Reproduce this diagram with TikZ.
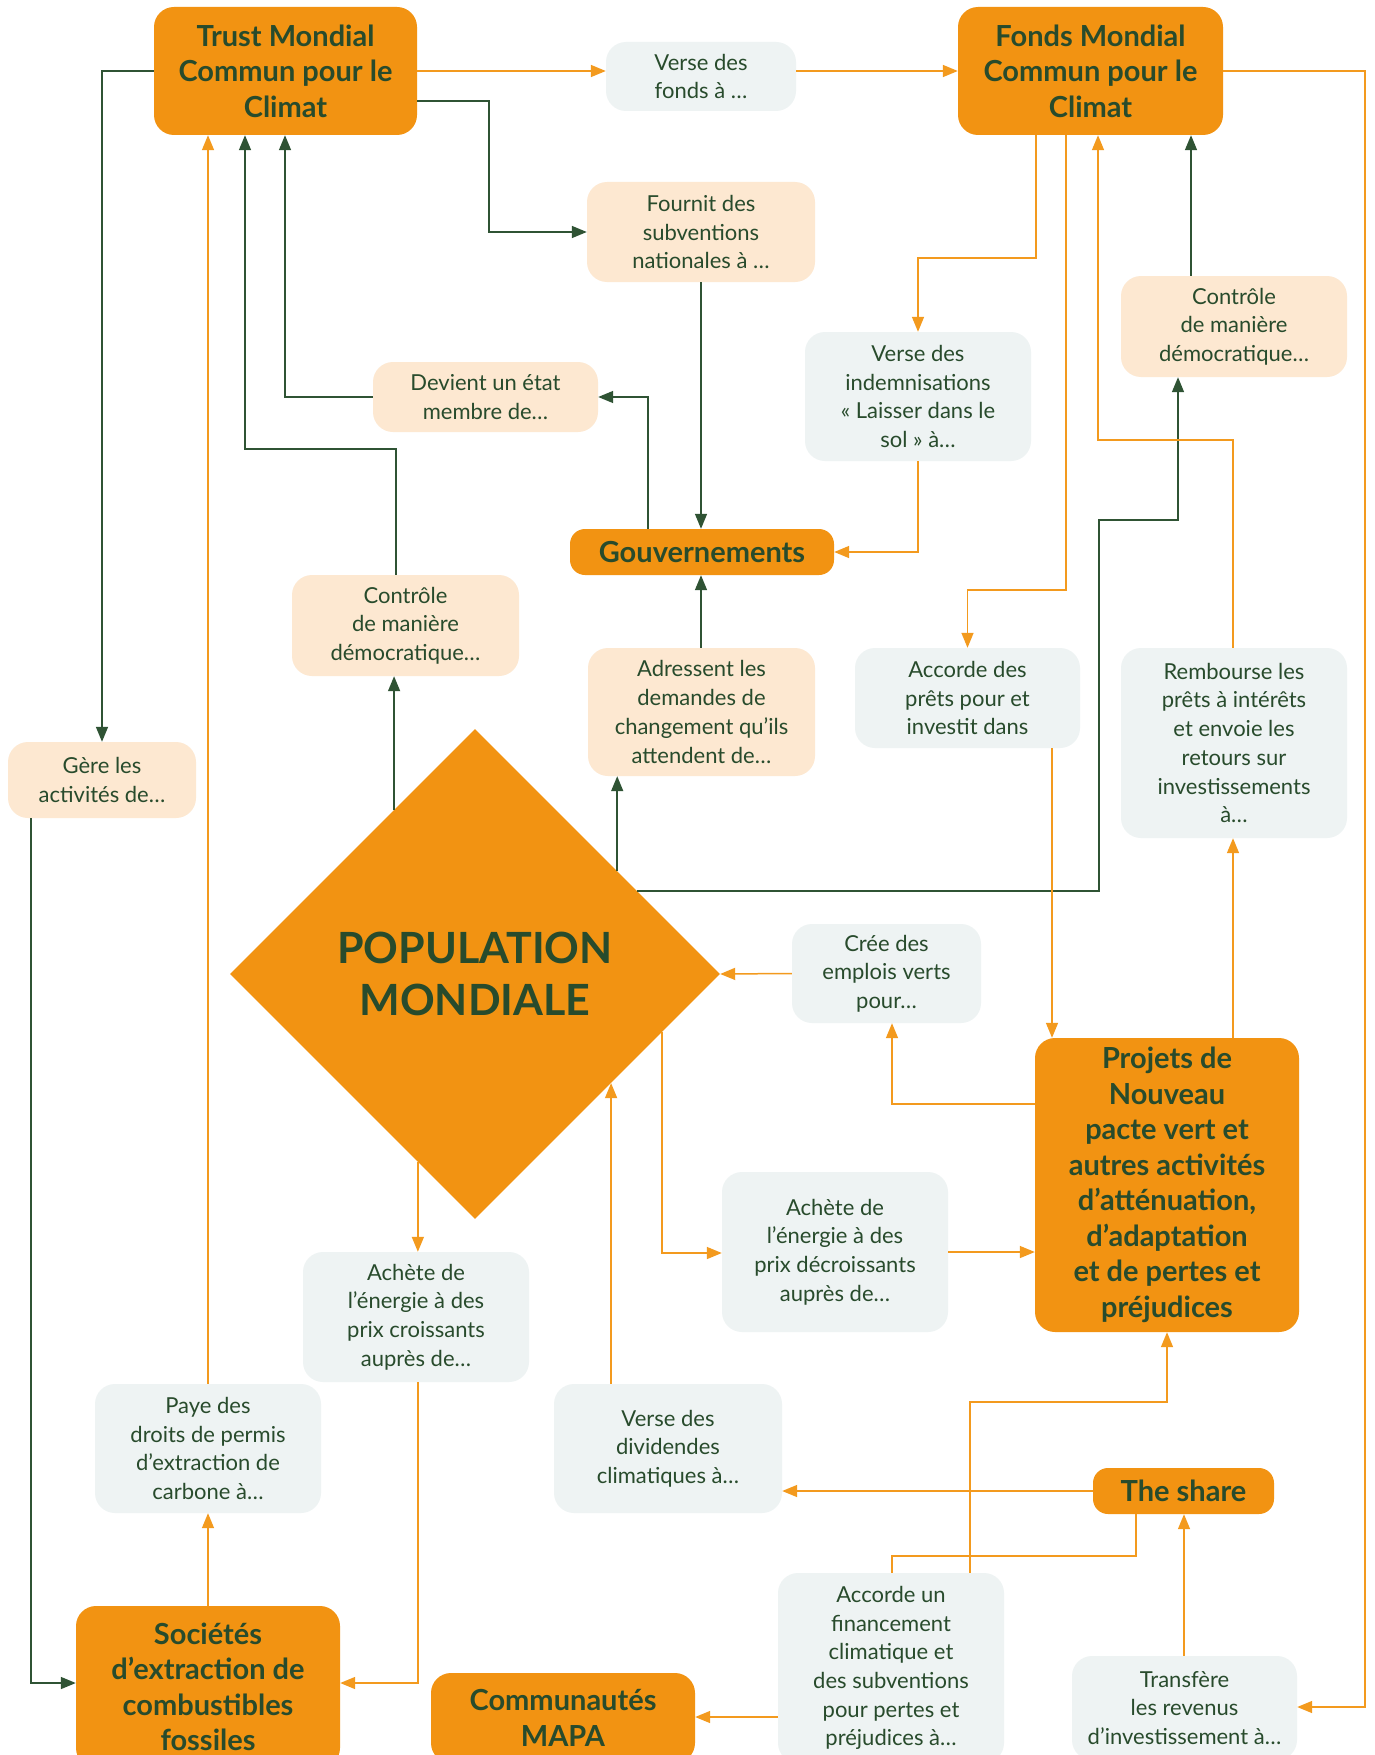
\documentclass[tikz,border=0pt]{standalone}
\usepackage{fontspec}
\setmainfont{Lato}
\usetikzlibrary{arrows.meta,shapes.geometric,calc}
\definecolor{ora}{HTML}{F29312}
\definecolor{oline}{HTML}{F39A1E}
\definecolor{peach}{HTML}{FDE8D1}
\definecolor{greyb}{HTML}{EEF3F3}
\definecolor{dgreen}{HTML}{284B2C}
\definecolor{gline}{HTML}{2F5334}
\tikzset{
  box/.style={rectangle, rounded corners=20pt, inner sep=0pt, align=center, text=dgreen,
    font=\fontsize{22}{28.7}\selectfont},
  pbox/.style={box, fill=peach},
  gbox/.style={box, fill=greyb},
  tbox/.style={rectangle, rounded corners=20pt, inner sep=0pt, align=center, fill=ora, text=dgreen,
    font=\fontsize{29}{35.5}\selectfont\bfseries},
  og/.style={draw=oline, line width=1.5pt, -{Triangle[length=15pt,width=12pt]}},
  gg/.style={draw=gline, line width=1.5pt, -{Triangle[length=15pt,width=12pt]}},
  op/.style={draw=oline, line width=1.5pt},
}
\begin{document}
\begin{tikzpicture}[x=1pt,y=-1pt]
\useasboundingbox (0,0) rectangle (1374,1755);
\fill[white] (0,0) rectangle (1374,1755);
\begin{scope}
\clip (0,0) rectangle (1374,1755);
% title boxes
\node[tbox, minimum width=263pt, minimum height=128pt] (trust) at (285.5,71) {Trust Mondial\\Commun pour le\\Climat};
\node[tbox, minimum width=265pt, minimum height=128pt] (fonds) at (1090.5,71) {Fonds Mondial\\Commun pour le\\Climat};
\node[tbox, rounded corners=15pt, minimum width=264pt, minimum height=46pt] (gouv) at (702,552) {Gouvernements};
\node[tbox, minimum width=264pt, minimum height=294pt] (projets) at (1167,1185) {Projets de\\Nouveau\\pacte vert et\\autres activités\\d’atténuation,\\d’adaptation\\et de pertes et\\préjudices};
\node[tbox, rounded corners=15pt, minimum width=181pt, minimum height=46pt] (share) at (1183.5,1491) {The share};
\node[tbox, minimum width=264pt, minimum height=162pt] (societes) at (208,1687) {Sociétés\\d’extraction de\\combustibles\\fossiles};
\node[tbox, minimum width=264pt, minimum height=90pt] (communautes) at (563,1718) {Communautés\\MAPA};
% diamond
\node[diamond, fill=ora, inner sep=0pt, minimum width=490pt, minimum height=490pt, align=center, text=dgreen,
  font=\fontsize{43}{52}\selectfont\bfseries] (pop) at (475,974) {POPULATION\\MONDIALE};
% label boxes
\node[gbox, minimum width=190pt, minimum height=69pt] (versefonds) at (701,76.5) {Verse des\\fonds à …};
\node[pbox, minimum width=228pt, minimum height=100pt] (fournit) at (701,232) {Fournit des\\subventions\\nationales à …};
\node[gbox, minimum width=226pt, minimum height=129pt] (versindem) at (918,396.5) {Verse des\\indemnisations\\« Laisser dans le\\sol » à…};
\node[pbox, minimum width=226pt, minimum height=101pt] (controleR) at (1234,326.5) {Contrôle\\de manière\\démocratique…};
\node[pbox, minimum width=225pt, minimum height=70pt] (devient) at (485.5,397) {Devient un état\\membre de…};
\node[pbox, minimum width=227pt, minimum height=101pt] (controleL) at (405.5,625.5) {Contrôle\\de manière\\démocratique…};
\node[pbox, minimum width=227pt, minimum height=128pt] (adressent) at (701.5,712) {Adressent les\\demandes de\\changement qu’ils\\attendent de…};
\node[gbox, minimum width=225pt, minimum height=100pt] (accordeprets) at (967.5,698) {Accorde des\\prêts pour et\\investit dans};
\node[gbox, minimum width=226pt, minimum height=190pt] (rembourse) at (1234,743) {Rembourse les\\prêts à intérêts\\et envoie les\\retours sur\\investissements\\à…};
\node[pbox, minimum width=188pt, minimum height=76pt] (gere) at (102,780) {Gère les\\activités de…};
\node[gbox, minimum width=189pt, minimum height=99pt] (cree) at (886.5,973.5) {Crée des\\emplois verts\\pour…};
\node[gbox, minimum width=226pt, minimum height=160pt] (achetedecr) at (835,1252) {Achète de\\l’énergie à des\\prix décroissants\\auprès de…};
\node[gbox, minimum width=226pt, minimum height=130pt] (achetecroi) at (416,1317) {Achète de\\l’énergie à des\\prix croissants\\auprès de…};
\node[gbox, minimum width=226pt, minimum height=129pt] (paye) at (208,1448.5) {Paye des\\droits de permis\\d’extraction de\\carbone à…};
\node[gbox, minimum width=228pt, minimum height=129pt] (versediv) at (668,1448.5) {Verse des\\dividendes\\climatiques à…};
\node[gbox, minimum width=226pt, minimum height=190pt] (accordeun) at (891,1668) {Accorde un\\financement\\climatique et\\des subventions\\pour pertes et\\préjudices à…};
\node[gbox, minimum width=225pt, minimum height=104pt] (transfere) at (1184.5,1708) {Transfère\\les revenus\\d’investissement à…};
% points on the diamond
\coordinate (p1) at ($(pop.north)!0.58!(pop.east)$);
\coordinate (p2) at ($(pop.north)!0.33!(pop.west)$);
\coordinate (p3) at ($(pop.north)!0.661!(pop.east)$);
\coordinate (p4) at ($(pop.south)!0.555!(pop.east)$);
\coordinate (p5) at ($(pop.south)!0.233!(pop.west)$);
\coordinate (p6) at ($(pop.east)!0.237!(pop.south)$);
% connectors
\draw[gg] (trust.west) -| (gere.north);
\draw[og] (trust.east) -- (versefonds.west |- trust.east);
\draw[og] (versefonds.east |- fonds.west) -- (fonds.west);
\draw[gg] (trust.east |- 0,101) -- (489,101) |- (fournit.west);
\draw[gg] (fournit.south) -- (fournit.south |- gouv.north);
\draw[og] (fonds.south -| 1036,0) -- (1036,258) -| (versindem.north);
\draw[og] (versindem.south) |- (gouv.east);
\draw[gg] (gouv.north -| 648,0) |- (devient.east);
\draw[gg] (devient.west) -| (trust.south -| 285,0);
\draw[gg] (adressent.north -| 701,0) -- (gouv.south -| 701,0);
\draw[gg] (p1) -- (p1 |- adressent.south);
\draw[gg] (p2) -- (p2 |- controleL.south);
\draw[gg] (controleL.north -| 396,0) -- (396,449) -| (trust.south -| 245,0);
\draw[gg] (p3) -| (1099,520) -| (controleR.south -| 1178,0);
\draw[gg] (controleR.north -| 1191,0) -- (fonds.south -| 1191,0);
\draw[og] (fonds.south -| 1066,0) -- (1066,590) -| (accordeprets.north);
\draw[og] (accordeprets.south -| 1052,0) -- (projets.north -| 1052,0);
\draw[og] (projets.north -| 1233,0) -- (rembourse.south -| 1233,0);
\draw[og] (rembourse.north -| 1233,0) -- (1233,440) -| (fonds.south -| 1098,0);
\draw[og] (fonds.east) -- (1365,71) |- (transfere.east |- 0,1707);
\draw[og] (transfere.north -| 1184,0) -- (share.south -| 1184,0);
\draw[og] (share.west) -- (versediv.east |- share.west);
\draw[op] (share.south -| 1136,0) -- (1136,1556) -| (accordeun.north -| 892,0);
\draw[og] (accordeun.north -| 970,0) -- (970,1402) -| (projets.south);
\draw[og] (accordeun.west |- 0,1717) -- (communautes.east |- 0,1717);
\draw[og] (versediv.north -| p4) -- (p4);
\draw[og] (p5) -- (p5 |- achetecroi.north);
\draw[og] (achetecroi.south -| 418,0) -- (418,1683) -- (societes.east |- 0,1683);
\draw[og] (p6) |- (achetedecr.west |- 0,1253);
\draw[og] (achetedecr.east |- 0,1252) -- (projets.west |- 0,1252);
\draw[og] (projets.west |- 0,1104) -| (cree.south -| 892,0);
\draw[og] (cree.west) -- (pop.east);
\draw[gg] (gere.south -| 31,0) -- (31,1683) -- (societes.west |- 0,1683);
\draw[og] (societes.north) -- (paye.south);
\draw[og] (paye.north) -- (trust.south -| paye.north);
\end{scope}
\end{tikzpicture}
\end{document}
